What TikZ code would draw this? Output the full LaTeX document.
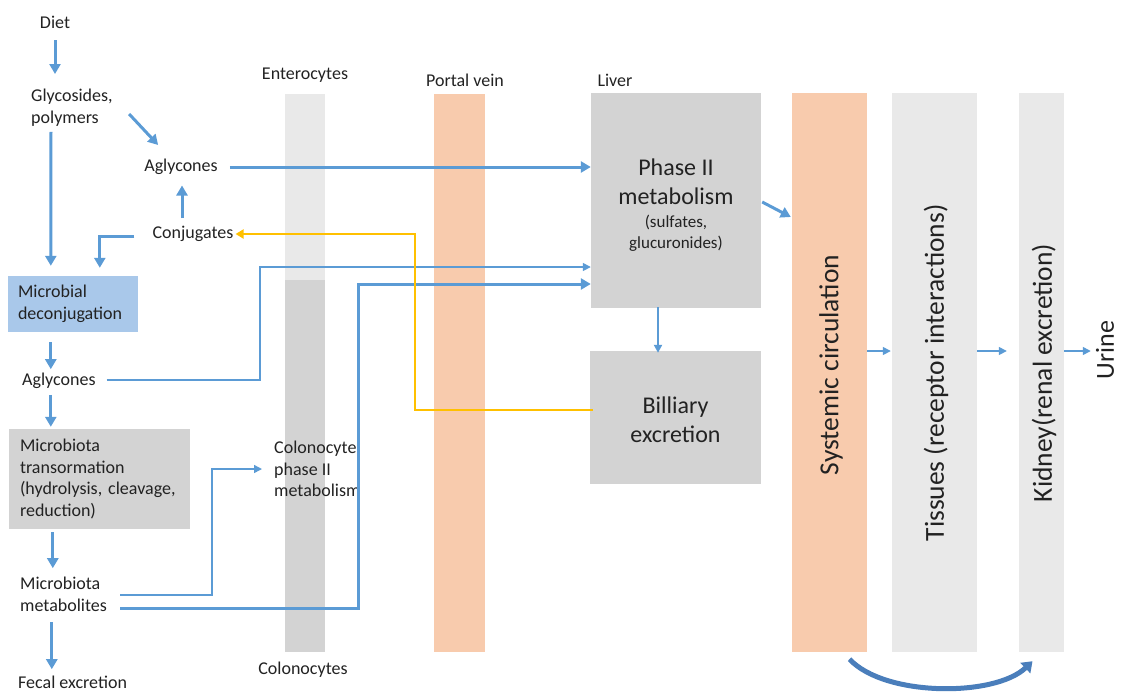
\documentclass[tikz,border=0pt]{standalone}
\usepackage{fontspec}
\setmainfont{Carlito}
\usetikzlibrary{arrows.meta,calc}
\definecolor{myblue}{HTML}{5B9BD5}
\definecolor{myyellow}{HTML}{FFC000}
\definecolor{peach}{HTML}{F8CBAD}
\definecolor{lgray}{HTML}{E9E9E9}
\definecolor{mgray}{HTML}{D3D3D3}
\definecolor{lblue}{HTML}{A9C8EA}
\definecolor{txtc}{HTML}{222222}
\definecolor{curvc}{HTML}{4A7EBB}
\newcommand{\smallsz}{\fontsize{17}{21}\selectfont}
\begin{document}
\begin{tikzpicture}[x=1pt,y=-1pt,
  lbl/.style={font=\fontsize{18}{21.8}\selectfont, text=txtc, inner sep=0pt},
  big/.style={font=\fontsize{24}{29}\selectfont, text=txtc, inner sep=0pt},
  vbig/.style={font=\fontsize{27.5}{33}\selectfont, text=txtc, inner sep=0pt, rotate=90},
  block/.style={draw=none, inner sep=0pt, minimum width=#1},
  arr/.style={draw=myblue, line width=3pt, -{Triangle[length=10pt,width=11pt]}},
  tarr/.style={draw=myblue, line width=1.5pt, -{Triangle[length=8pt,width=8pt]}},
  yarr/.style={draw=myyellow, line width=2pt, -{Triangle[length=8pt,width=9pt]}},
  carr/.style={draw=curvc, line width=5pt, -{Triangle[length=10pt,width=14pt]}}
]
\useasboundingbox (0,0) rectangle (1121,691);

% columns and boxes
\node[block=40pt, fill=lgray, minimum height=186pt] (ent) at (305,187) {};
\node[block=40pt, fill=mgray, minimum height=372pt] (col) at (305,466) {};
\node[block=51pt, fill=peach, minimum height=558pt] (portal) at (459.5,373) {};
\node[block=75pt, fill=peach, minimum height=559pt] (sys) at (829.5,372.5) {};
\node[block=85pt, fill=lgray, minimum height=559pt] (tis) at (934.5,372.5) {};
\node[block=45pt, fill=lgray, minimum height=559pt] (kid) at (1041.5,372.5) {};

\node[block=170pt, fill=mgray, minimum height=215pt] (phase) at (676,200.5) {};
\node[big, align=center] (phaset) at (676,205.5)
  {Phase II\\metabolism\\[-6pt]\smallsz (sulfates,\\[-8pt]\smallsz glucuronides)};
\node[block=171pt, fill=mgray, minimum height=133pt] (bill) at (675.5,417.5) {};
\node[big, align=center] (billt) at (675.5,419.5) {Billiary\\excretion};

\node[block=130pt, fill=lblue, minimum height=56pt, inner xsep=10pt, text width=110pt,
      align=left, lbl] (mdec) at (73,304) {Microbial\\deconjugation};
\node[block=181pt, fill=mgray, minimum height=100pt, inner xsep=11pt, text width=159pt,
      align=left, lbl] (mtr) at (99.5,479)
  {Microbiota\\transormation\\(hydrolysis, cleavage,\\reduction)};

% labels
\node[lbl] (diet) at (55,22) {Diet};
\node[lbl, align=left, anchor=west] (gly) at (31,108) {Glycosides,\\polymers};
\node[lbl] (agl1) at (181,167) {Aglycones};
\node[lbl] (conj) at (193,234) {Conjugates};
\node[lbl, anchor=west] (agl2) at (22,381) {Aglycones};
\node[lbl, align=left, anchor=west] (mmet) at (20,594) {Microbiota\\metabolites};
\node[lbl, anchor=north west] (fecal) at (18,676) {Fecal excretion};
\node[lbl, align=left, anchor=west] (colo) at (274,469) {Colonocyte\\phase II\\metabolism};
\node[lbl] (entl) at (305,75) {Enterocytes};
\node[lbl] (coll) at (303,670) {Colonocytes};
\node[lbl] (portl) at (465,80) {Portal vein};
\node[lbl] (liverl) at (615,80) {Liver};
\node[vbig] (syst) at (831,365) {Systemic circulation};
\node[vbig] (tist) at (936,373) {Tissues (receptor interactions)};
\node[vbig] (kidt) at (1044,373) {Kidney(renal excretion)};
\node[vbig, font=\fontsize{26}{31}\selectfont] (urine) at (1105,350) {Urine};

% left chain
\draw[arr] (diet.south |- 0,40) -- (diet.south |- 0,74);
\draw[arr] ($(gly.south west)+(20,5)$) -- ($(mdec.north west)+(43,-10)$);
\draw[arr] ($(agl1.north west)+(-15,-45)$) -- ($(agl1.north west)+(14,-14)$);
\draw[arr] ($(conj.north)+(-11,-8)$) -- ($(agl1.south)+(1,10.5)$);
\draw[arr] ($(conj.west)+(-18,2)$) -| ($(mdec.north west)+(92,-8)$);
\draw[arr] ($(mdec.south west)+(43,10)$) -- ($(mdec.south west)+(43,37)$);
\draw[arr] ($(mtr.north west)+(42,-34)$) -- ($(mtr.north west)+(42,-2)$);
\draw[arr] ($(mtr.south west)+(44,3)$) -- ($(mtr.south west)+(44,39)$);
\draw[arr] ($(mtr.south west)+(43,93)$) -- ($(mtr.south west)+(43,140)$);

% to liver
\draw[arr] ($(agl1.east)+(12,0)$) -- (phase.west |- agl1.east);
\draw[tarr] ($(agl2.east)+(11,-1)$) -| (260,267) -- (phase.west |- 260,267);
\draw[tarr] ($(mmet.east)+(13,1)$) -| (212,469) -- ($(colo.west)+(-12,0)$);
\draw[arr] ($(mmet.east)+(13,14)$) -| (358,284) -- (phase.west |- 358,284);
\draw[yarr] ($(bill.west)+(3,-7.5)$) -- (415,410) |- ($(conj.east)+(2,0)$);

% liver and systemic
\draw[tarr, line width=2pt] ($(phase.south)+(-18,-1)$) -- ($(bill.north)+(-17.5,2)$);
\draw[arr] ($(phase.east)+(1,1.5)$) -- ($(sys.west)+(-1,-155.5)$);
\draw[tarr] (sys.east |- 0,351) -- ($(tis.west |- 0,351)+(-1,0)$);
\draw[tarr] (tis.east |- 0,351) -- ($(kid.west |- 0,351)+(-12,0)$);
\draw[tarr] (kid.east |- 0,351) -- ($(urine.north |- 0,351)+(-5,0)$);
\draw[carr] ($(sys.south)+(20,7)$) .. controls (885,697) and (995,697) .. ($(kid.south)+(-9,9)$);
\end{tikzpicture}
\end{document}
